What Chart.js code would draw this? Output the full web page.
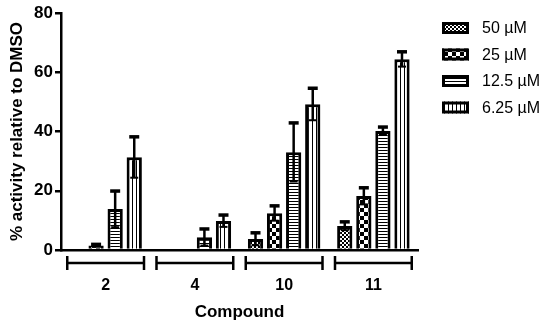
<!DOCTYPE html>
<html>
<head>
<meta charset="utf-8">
<script src="https://cdn.jsdelivr.net/npm/chart.js@4/dist/chart.umd.min.js"></script>
<style>
  html, body { margin: 0; padding: 0; background: #fff; }
  #wrap { width: 550px; height: 327px; }
</style>
</head>
<body>
<div id="wrap"><canvas id="bar-chart"></canvas></div>
<script>
var compounds = ['2', '4', '10', '11']
var seriesNames = ['50 µM', '25 µM', '12.5 µM', '6.25 µM']

var act50 = [null, null, 3.7, 8.1]
var act25 = [1.5, null, 12.4, 18.2]
var act12 = [13.8, 4.3, 33, 40.2]
var act6 = [31.3, 9.8, 49.2, 64.4]

var err50 = [0, 0, 2.1, 1.4]
var err25 = [0.4, 0, 2.5, 2.8]
var err12 = [6.1, 2.8, 9.9, 1.3]
var err6 = [6.9, 2.0, 5.4, 2.5]

var yTicks = [0, 20, 40, 60, 80]

// canvas patterns for the bar fills
function makePattern(kind) {
    var c = document.createElement('canvas')
    var g = c.getContext('2d')
    if (kind == 'fine') {
        c.width = 4; c.height = 4
        g.fillStyle = '#fff'; g.fillRect(0, 0, 4, 4)
        g.fillStyle = '#000'
        g.fillRect(0, 0, 2, 2); g.fillRect(2, 2, 2, 2)
    } else if (kind == 'checker') {
        c.width = 8; c.height = 8
        g.fillStyle = '#fff'; g.fillRect(0, 0, 8, 8)
        g.fillStyle = '#000'
        g.fillRect(0, 0, 4, 4); g.fillRect(4, 4, 4, 4)
    } else if (kind == 'hstripe') {
        c.width = 4; c.height = 3
        g.fillStyle = '#fff'; g.fillRect(0, 0, 4, 3)
        g.fillStyle = '#000'; g.fillRect(0, 0, 4, 1)
    } else {
        c.width = 4; c.height = 4
        g.fillStyle = '#fff'; g.fillRect(0, 0, 4, 4)
        g.fillStyle = '#000'; g.fillRect(0, 0, 1, 4)
    }
    return g.createPattern(c, 'repeat')
}

var fills = [makePattern('fine'), makePattern('checker'), makePattern('hstripe'), makePattern('vstripe')]
var values = [act50, act25, act12, act6]
var errors = [err50, err25, err12, err6]

var font = "'Liberation Sans', Arial, sans-serif"

// error bars: line through the bar top with a cap at each end
var errorBars = {
    id: 'errorBars',
    afterDatasetsDraw: function(chart) {
        var ctx = chart.ctx
        var y = chart.scales.y
        ctx.save()
        ctx.strokeStyle = '#000'
        chart.data.datasets.forEach(function(ds, d) {
            var meta = chart.getDatasetMeta(d)
            meta.data.forEach(function(bar, i) {
                var v = ds.data[i]
                var e = errors[d][i]
                if (v == null || !e) return
                var top = y.getPixelForValue(v + e)
                var bot = y.getPixelForValue(Math.max(v - e, 0))
                ctx.lineWidth = 2.5
                ctx.beginPath()
                ctx.moveTo(bar.x, top); ctx.lineTo(bar.x, bot)
                ctx.stroke()
                ctx.lineWidth = 3.5
                ctx.beginPath()
                ctx.moveTo(bar.x - 5, top); ctx.lineTo(bar.x + 5, top)
                ctx.stroke()
                ctx.lineWidth = 2
                ctx.beginPath()
                ctx.moveTo(bar.x - 4, bot); ctx.lineTo(bar.x + 4, bot)
                ctx.stroke()
            })
        })
        ctx.restore()
    }
}

// group brackets under the axis + legend on the right
var decorations = {
    id: 'decorations',
    afterDraw: function(chart) {
        var ctx = chart.ctx
        var x = chart.scales.x
        ctx.save()
        ctx.strokeStyle = '#000'
        ctx.lineWidth = 2.5
        compounds.forEach(function(c, i) {
            var cx = x.getPixelForValue(i)
            var half = x.width / compounds.length * 0.43
            ctx.beginPath()
            ctx.moveTo(cx - half, 263); ctx.lineTo(cx + half, 263)
            ctx.moveTo(cx - half, 256); ctx.lineTo(cx - half, 270)
            ctx.moveTo(cx + half, 256); ctx.lineTo(cx + half, 270)
            ctx.stroke()
        })
        seriesNames.forEach(function(name, i) {
            var cy = 28 + i * 26.5
            ctx.fillStyle = fills[i]
            ctx.fillRect(442, cy - 6, 27, 12)
            ctx.lineWidth = 3
            ctx.strokeRect(443.5, cy - 4.5, 24, 9)
            ctx.fillStyle = '#000'
            ctx.font = '16px ' + font
            ctx.textBaseline = 'middle'
            ctx.fillText(name, 482, cy + 1)
        })
        ctx.restore()
    }
}

barChart = new Chart(document.getElementById('bar-chart'), {
    type: 'bar',
    data: {
        labels: compounds,
        datasets: seriesNames.map(function(name, i) {
            return {
                label: name,
                data: values[i],
                backgroundColor: fills[i],
                borderColor: '#000',
                borderWidth: 3,
                categoryPercentage: 0.855,
                barPercentage: 0.8
            }
        })
    },
    options: {
        responsive: true,
        maintainAspectRatio: false,
        animation: false,
        layout: { padding: { top: 13, right: 132, left: 0, bottom: 0 } },
        plugins: {
            legend: { display: false },
            tooltip: { enabled: false }
        },
        scales: {
            x: {
                grid: { display: false },
                border: { display: true, color: '#000', width: 2.5 },
                ticks: { color: '#000', padding: 18, font: { family: font, size: 16, weight: 'bold' } },
                title: { display: true, text: 'Compound', color: '#000', padding: { top: 6 },
                    font: { family: font, size: 17, weight: 'bold' } },
                afterFit: function(s) { s.height = 77 }
            },
            y: {
                min: 0,
                max: 80,
                afterBuildTicks: function(s) { s.ticks = yTicks.map(function(v) { return { value: v } }) },
                grid: { drawOnChartArea: false, color: '#000', lineWidth: 2.5, tickLength: 6 },
                border: { display: true, color: '#000', width: 2.5 },
                ticks: { color: '#000', padding: 2, font: { family: font, size: 17, weight: 'bold' } },
                title: { display: true, text: '% activity relative to DMSO', color: '#000', padding: { top: 7, bottom: 0 },
                    font: { family: font, size: 17, weight: 'bold' } },
                afterFit: function(s) { s.width = 61 }
            }
        }
    },
    plugins: [errorBars, decorations]
});
</script>
</body>
</html>
